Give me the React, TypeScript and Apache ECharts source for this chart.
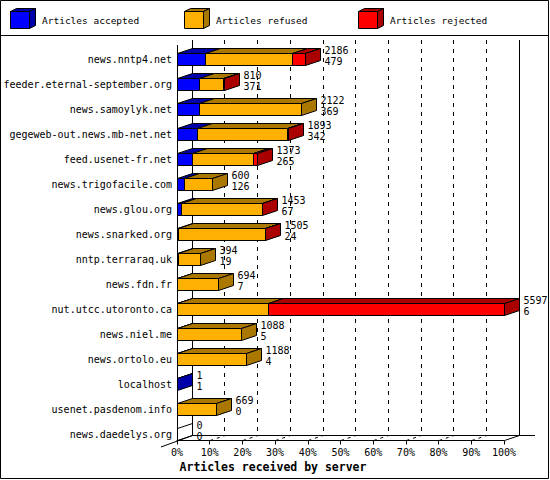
import React, { useEffect, useRef } from 'react';
import * as echarts from 'echarts';

const servers = [
  'news.nntp4.net',
  'feeder.eternal-september.org',
  'news.samoylyk.net',
  'gegeweb-out.news.mb-net.net',
  'feed.usenet-fr.net',
  'news.trigofacile.com',
  'news.glou.org',
  'news.snarked.org',
  'nntp.terraraq.uk',
  'news.fdn.fr',
  'nut.utcc.utoronto.ca',
  'news.niel.me',
  'news.ortolo.eu',
  'localhost',
  'usenet.pasdenom.info',
  'news.daedelys.org',
];
const received = [2186, 810, 2122, 1893, 1373, 600, 1453, 1505, 394, 694, 5597, 1088, 1188, 1, 669, 0];
const accepted = [479, 371, 369, 342, 265, 126, 67, 24, 19, 7, 6, 5, 4, 1, 0, 0];
const refused = [1484, 416, 1753, 1537, 1041, 474, 1381, 1476, 375, 687, 1552, 1083, 1184, 0, 669, 0];
const rejected = [223, 23, 0, 14, 67, 0, 5, 5, 0, 0, 4039, 0, 0, 0, 0, 0];
const legendNames = ['Articles accepted', 'Articles refused', 'Articles rejected'];
const axisTitle = 'Articles received by server';

const FRONT = ['#0000FF', '#FFB000', '#FF0000'];
const DARK = ['#0000AA', '#AA7700', '#AA0000'];
const FONT = '"DejaVu Sans Mono", monospace';

export default function App() {
  const ref = useRef<HTMLDivElement>(null);
  useEffect(() => {
    document.body.style.margin = '0';
    const chart = echarts.init(ref.current!, null, { renderer: 'svg', width: 550, height: 480 });
    const maxTotal = Math.max(...received);
    const pct = (v: number) => (v / maxTotal) * 100;
    const data = servers.map((_, i) => [i, pct(accepted[i]), pct(refused[i]), pct(rejected[i]), received[i], accepted[i]]);

    const L = 177, W = 327, TOP = 46.5, H = 400;
    const BL = 192, BTOP = 40, BH = 395;
    const DX = 15, DY = 6;
    const BDX = 15, BDY = 5;

    const graphics: any[] = [];
    // outer border and legend separator
    graphics.push({ type: 'rect', z: 0, shape: { x: 0.5, y: 0.5, width: 548, height: 478 }, style: { fill: 'none', stroke: '#000', lineWidth: 1 } });
    graphics.push({ type: 'line', z: 0, shape: { x1: 0, y1: 35.5, x2: 549, y2: 35.5 }, style: { stroke: '#000', lineWidth: 1 } });
    // legend
    const lx = [10, 184, 358];
    legendNames.forEach((n, k) => {
      const x = lx[k] + 0.5, y = 11.5, w = 19, h = 17, dx = 6, dy = 3;
      graphics.push({ type: 'polygon', z: 1, shape: { points: [[x, y], [x + w, y], [x + w + dx, y - dy], [x + dx, y - dy]] }, style: { fill: DARK[k], stroke: '#000', lineWidth: 1 } });
      graphics.push({ type: 'polygon', z: 1, shape: { points: [[x + w, y], [x + w + dx, y - dy], [x + w + dx, y + h - dy], [x + w, y + h]] }, style: { fill: DARK[k], stroke: '#000', lineWidth: 1 } });
      graphics.push({ type: 'rect', z: 1, shape: { x, y, width: w, height: h }, style: { fill: FRONT[k], stroke: '#000', lineWidth: 1 } });
      graphics.push({ type: 'text', z: 1, style: { text: n, x: lx[k] + 32, y: 20, fontFamily: FONT, fontSize: 9.5, fill: '#000', verticalAlign: 'middle', align: 'left' } });
    });
    // 3D frame lines
    const fy = 441, by = 435;
    graphics.push({ type: 'line', z: 1, shape: { x1: L + 0.5, y1: 45, x2: L + 0.5, y2: fy }, style: { stroke: '#000', lineWidth: 1 } });
    graphics.push({ type: 'line', z: 1, shape: { x1: BL + 0.5, y1: BTOP, x2: BL + 0.5, y2: by }, style: { stroke: '#000', lineWidth: 1 } });
    graphics.push({ type: 'line', z: 1, shape: { x1: BL + W + 0.5, y1: BTOP, x2: BL + W + 0.5, y2: by }, style: { stroke: '#000', lineWidth: 1 } });
    graphics.push({ type: 'line', z: 1, shape: { x1: BL, y1: by + 0.5, x2: 535, y2: by + 0.5 }, style: { stroke: '#000', lineWidth: 1 } });
    graphics.push({ type: 'line', z: 1, shape: { x1: 161, y1: 447, x2: BL + 0.5, y2: by + 0.5 }, style: { stroke: '#000', lineWidth: 1 } });
    for (let k = 1; k <= 10; k++) {
      const xf = L + (W * k) / 10 + 0.5;
      graphics.push({
        type: 'line', z: 1,
        shape: { x1: xf, y1: fy - 0.5, x2: xf + BDX, y2: by + 0.5 },
        style: { stroke: '#000', lineWidth: 1, lineDash: k === 10 ? null : [3, 4] },
      });
    }
    graphics.push({ type: 'text', z: 1, style: { text: axisTitle, x: 273, y: 467, fontFamily: FONT, fontSize: 11.5, fontWeight: 'bold', fill: '#000', align: 'center', verticalAlign: 'middle' } });

    const option: any = {
      animation: false,
      backgroundColor: '#fff',
      grid: [
        { left: L, top: TOP, width: W, height: H },
        { left: BL, top: BTOP, width: W, height: BH },
      ],
      xAxis: [
        {
          gridIndex: 0, type: 'value', min: 0, max: 100, interval: 10, offset: -6,
          axisLine: { show: true, lineStyle: { color: '#000', width: 1 } },
          axisTick: { show: true, length: 4, lineStyle: { color: '#000' } },
          axisLabel: { formatter: '{value}%', fontFamily: FONT, fontSize: 10, color: '#000', margin: 7 },
          splitLine: { show: false },
        },
        {
          gridIndex: 1, type: 'value', min: 0, max: 100, interval: 10,
          axisLine: { show: false }, axisTick: { show: false }, axisLabel: { show: false },
          splitLine: { show: true, lineStyle: { color: '#000', width: 1, type: [4, 5] } },
        },
      ],
      yAxis: [
        {
          gridIndex: 0, type: 'category', inverse: true, data: servers,
          axisLine: { show: false }, axisTick: { show: false },
          axisLabel: { fontFamily: FONT, fontSize: 10, color: '#000', margin: 5 },
          splitLine: { show: false },
        },
        { gridIndex: 1, type: 'value', show: false, splitLine: { show: false } },
      ],
      graphic: graphics,
      series: [
        {
          type: 'custom',
          xAxisIndex: 0, yAxisIndex: 0,
          z: 10,
          clip: false,
          encode: { x: [1, 2, 3], y: 0 },
          data,
          renderItem: (params: any, api: any) => {
            const i = api.value(0);
            const segs = [api.value(1), api.value(2), api.value(3)];
            const yc = api.coord([0, i])[1];
            const top = Math.round(yc) - 5.5;
            const bot = top + 12;
            const snap = (x: number) => Math.round(x) + 0.5;
            const children: any[] = [];
            let cum = 0;
            let last = -1;
            let xe = snap(api.coord([0, i])[0]);
            segs.forEach((v: number, k: number) => {
              if (!(v > 0)) return;
              const xa = snap(api.coord([cum, i])[0]);
              cum += v;
              const xb = Math.max(xa, snap(api.coord([cum, i])[0]));
              children.push({ type: 'polygon', shape: { points: [[xa, top], [xb, top], [xb + DX, top - DY + 1], [xa + DX, top - DY + 1]] }, style: { fill: DARK[k], stroke: '#000', lineWidth: 1 } });
              children.push({ type: 'rect', shape: { x: xa, y: top, width: xb - xa, height: bot - top }, style: { fill: FRONT[k], stroke: '#000', lineWidth: 1 } });
              last = k;
              xe = xb;
            });
            children.push({ type: 'polygon', shape: { points: [[xe, top], [xe + DX, top - DY + 1], [xe + DX, bot - DY + 1], [xe, bot]] }, style: { fill: last >= 0 ? DARK[last] : 'none', stroke: '#000', lineWidth: 1 } });
            children.push({ type: 'text', style: { text: `${api.value(4)}\n${api.value(5)}`, x: xe + 19, y: Math.round(yc) - 14.5, fontFamily: FONT, fontSize: 10, lineHeight: 11, fill: '#000', align: 'left', verticalAlign: 'top' } });
            return { type: 'group', children };
          },
        },
      ],
    };
    chart.setOption(option);
    return () => chart.dispose();
  }, []);
  return <div ref={ref} style={{ position: 'fixed', left: 0, top: 0, width: 550, height: 480, background: '#fff' }} />;
}
